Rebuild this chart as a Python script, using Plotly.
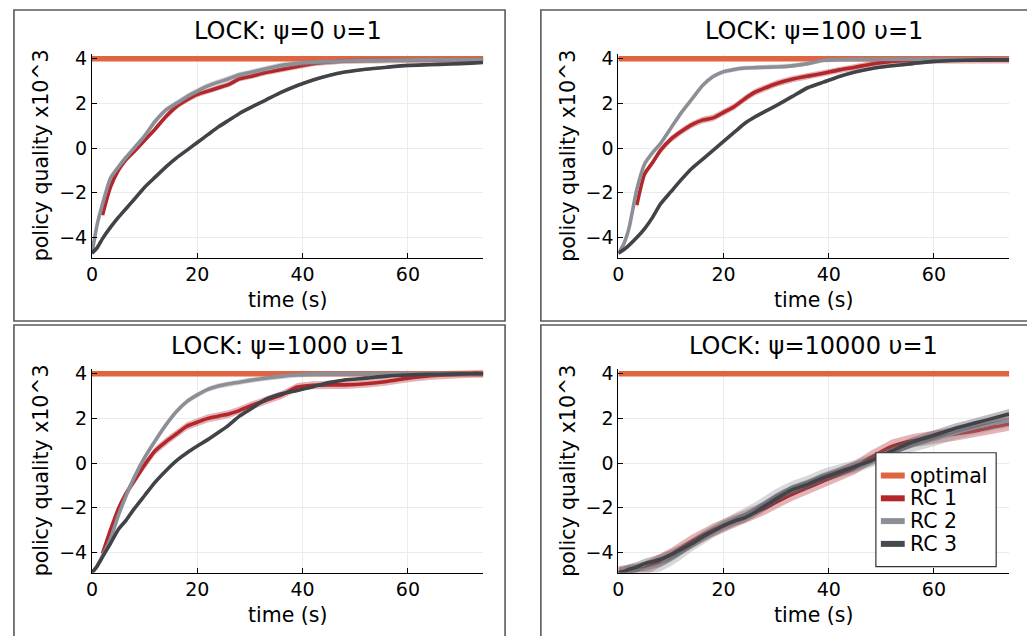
import plotly.graph_objects as go

# ---------------- data ----------------
T = [0, 1, 2, 3.5, 5, 6.5, 8, 10, 12, 14, 16, 18, 20, 22, 24, 26, 28, 30, 33, 36,
     39, 42, 45, 48, 52, 56, 60, 64, 68, 72, 74.3]

TITLES = ["LOCK: ψ=0 υ=1", "LOCK: ψ=100 υ=1", "LOCK: ψ=1000 υ=1", "LOCK: ψ=10000 υ=1"]
SERIES = ["RC 1", "RC 2", "RC 3"]
LEGEND_NAMES = ["optimal", "RC 1", "RC 2", "RC 3"]
OPTIMAL_T = [0, 75]
OPTIMAL_Y = [4, 4]

# psi = 0
P0_RC1 = [None, None, -3.0, -1.75, -1.0, -0.5, -0.15, 0.35, 0.85, 1.4, 1.85, 2.15, 2.4, 2.55, 2.7, 2.85,
          3.1, 3.2, 3.38, 3.52, 3.65, 3.78, 3.85, 3.9, 3.92, 3.93, 3.94, 3.95, 3.95, 3.95, 3.95]
P0_RC2 = [-4.7, -3.4, -2.5, -1.35, -0.85, -0.4, 0.0, 0.55, 1.2, 1.7, 2.0, 2.3, 2.55, 2.78, 2.95, 3.1,
          3.28, 3.38, 3.55, 3.7, 3.79, 3.84, 3.87, 3.9, 3.92, 3.93, 3.94, 3.95, 3.95, 3.95, 3.95]
P0_RC3 = [-4.7, -4.45, -4.05, -3.55, -3.1, -2.7, -2.3, -1.75, -1.3, -0.85, -0.45, -0.1, 0.25, 0.6, 0.95, 1.25,
          1.55, 1.8, 2.15, 2.5, 2.8, 3.05, 3.25, 3.4, 3.53, 3.62, 3.7, 3.73, 3.76, 3.8, 3.83]

# psi = 100
P1_RC1 = [None, None, None, -2.55, -1.15, -0.65, -0.1, 0.4, 0.75, 1.05, 1.25, 1.35, 1.6, 1.85, 2.2, 2.5,
          2.7, 2.88, 3.08, 3.22, 3.35, 3.5, 3.62, 3.75, 3.88, 3.92, 3.93, 3.93, 3.93, 3.93, 3.93]
P1_RC2 = [-4.7, -4.3, -3.6, -1.85, -0.7, -0.2, 0.2, 0.9, 1.6, 2.2, 2.8, 3.2, 3.42, 3.52, 3.58, 3.6,
          3.62, 3.63, 3.68, 3.78, 3.93, 3.96, 3.97, 3.97, 3.98, 3.98, 3.98, 3.98, 3.98, 3.98, 3.98]
P1_RC3 = [-4.7, -4.55, -4.35, -4.0, -3.6, -3.1, -2.5, -1.95, -1.4, -0.9, -0.5, -0.1, 0.3, 0.7, 1.1, 1.4,
          1.65, 1.9, 2.3, 2.7, 2.95, 3.2, 3.4, 3.55, 3.68, 3.78, 3.88, 3.92, 3.94, 3.95, 3.95]

# psi = 1000
P2_RC1 = [None, None, -4.05, -3.0, -2.05, -1.35, -0.8, -0.08, 0.55, 0.95, 1.3, 1.65, 1.83, 2.0, 2.1, 2.2,
          2.35, 2.55, 2.8, 3.05, 3.4, 3.48, 3.5, 3.5, 3.55, 3.65, 3.8, 3.9, 3.95, 4.0, 4.0]
P2_RC2 = [-4.9, -4.6, -4.15, -3.4, -2.35, -1.45, -0.65, 0.25, 1.0, 1.7, 2.3, 2.75, 3.05, 3.3, 3.45, 3.55,
          3.62, 3.7, 3.8, 3.88, 3.95, 3.98, 4.0, 4.0, 4.0, 4.0, 4.0, 4.0, 4.0, 4.0, 4.0]
P2_RC3 = [-4.9, -4.6, -4.2, -3.6, -2.97, -2.55, -2.05, -1.45, -0.85, -0.35, 0.1, 0.45, 0.76, 1.05, 1.37, 1.7,
          2.1, 2.4, 2.85, 3.1, 3.25, 3.42, 3.6, 3.72, 3.8, 3.89, 3.94, 3.97, 3.98, 4.0, 4.0]

# psi = 10000
P3_RC1 = [-4.9, -4.88, -4.85, -4.8, -4.7, -4.55, -4.35, -4.1, -3.8, -3.5, -3.25, -3.0, -2.8, -2.6, -2.4, -2.2,
          -2.0, -1.75, -1.4, -1.1, -0.8, -0.5, -0.2, 0.25, 0.75, 1.0, 1.15, 1.3, 1.45, 1.65, 1.75]
P3_RC2 = [-4.95, -4.9, -4.85, -4.8, -4.75, -4.65, -4.55, -4.3, -4.0, -3.65, -3.35, -3.05, -2.8, -2.55, -2.3, -2.05,
          -1.75, -1.45, -1.1, -0.85, -0.55, -0.35, -0.15, 0.1, 0.45, 0.8, 1.05, 1.35, 1.6, 1.8, 1.9]
P3_RC3 = [-4.9, -4.85, -4.75, -4.65, -4.5, -4.4, -4.3, -4.1, -3.85, -3.6, -3.3, -3.05, -2.8, -2.6, -2.45, -2.2,
          -1.9, -1.6, -1.2, -0.95, -0.65, -0.4, -0.15, 0.1, 0.55, 0.95, 1.25, 1.55, 1.8, 2.05, 2.2]

# half-width of the shaded band around each mean curve, per panel [RC1, RC2, RC3]
SPREAD_P0 = [0.12, 0.13, 0.06]
SPREAD_P1 = [0.15, 0.10, 0.06]
SPREAD_P2 = [0.18, 0.12, 0.06]
SPREAD_P3 = [0.30, 0.30, 0.22]

X_TICKS = [0, 20, 40, 60]
Y_TICKS = [-4, -2, 0, 2, 4]

PANELS = [
    (P0_RC1, P0_RC2, P0_RC3, SPREAD_P0),
    (P1_RC1, P1_RC2, P1_RC3, SPREAD_P1),
    (P2_RC1, P2_RC2, P2_RC3, SPREAD_P2),
    (P3_RC1, P3_RC2, P3_RC3, SPREAD_P3),
]

# ---------------- styling ----------------
W, H = 1027, 636
FONT = "DejaVu Sans"
C_OPT = "#E0643F"
C_LINE = ["#B3262B", "#8C9096", "#404347"]
C_BAND = ["rgba(179,38,43,0.35)", "rgba(140,144,150,0.35)", "rgba(64,67,71,0.35)"]
C_LEGEND = [C_OPT, "#B3262B", "#8C9096", "#46494D"]

# pixel geometry of panels (left, right, top, bottom of plot area)
COLS = [(86.5, 480.0), (616.0, 1009.0)]
ROWS = [(48.0, 254.0), (366.0, 572.0)]
BOXES = [(8, 4, 502, 318), (538, 4, 1030, 318), (8, 322, 502, 640), (538, 322, 1030, 640)]
LEGEND_BOX = (875, 451, 996, 566)
LEGEND_ROWS = [474, 497, 520, 543]


def px_x(p):
    return p / W


def px_y(p):
    return 1 - p / H


fig = go.Figure()
layout = dict(
    width=W, height=H,
    margin=dict(l=0, r=0, t=0, b=0),
    paper_bgcolor="white", plot_bgcolor="white",
    font=dict(family=FONT, color="black", size=19),
    showlegend=False,
)
annotations = []
shapes = []

for i, (rc1, rc2, rc3, spread) in enumerate(PANELS):
    r, c = divmod(i, 2)
    xl, xr = COLS[c]
    yt, yb = ROWS[r]
    suffix = "" if i == 0 else str(i + 1)
    xa, ya = "x" + suffix, "y" + suffix
    axis_common = dict(
        showline=True, linecolor="black", linewidth=1,
        ticks="inside", ticklen=5, tickcolor="black", tickwidth=1,
        showgrid=True, gridcolor="#EBEBEB", gridwidth=1,
        zeroline=False, mirror=False,
        tickfont=dict(family=FONT, size=19, color="black"),
    )
    layout["xaxis" + suffix] = dict(
        axis_common, domain=[px_x(xl), px_x(xr)], anchor=ya,
        range=[0, 74.3], tickvals=X_TICKS, ticktext=[str(v) for v in X_TICKS])
    layout["yaxis" + suffix] = dict(
        axis_common, domain=[px_y(yb), px_y(yt)], anchor=xa,
        range=[-4.9, 4.23], tickvals=Y_TICKS,
        ticktext=[("−" + str(-v)) if v < 0 else str(v) for v in Y_TICKS])

    fig.add_trace(go.Scatter(x=OPTIMAL_T, y=OPTIMAL_Y, mode="lines", name="optimal",
                             line=dict(color=C_OPT, width=5.5), xaxis=xa, yaxis=ya,
                             hoverinfo="skip"))
    for k, ys in enumerate([rc1, rc2, rc3]):
        tv = [t for t, v in zip(T, ys) if v is not None]
        yv = [v for v in ys if v is not None]
        up = [v + spread[k] for v in yv]
        lo = [v - spread[k] for v in yv]
        fig.add_trace(go.Scatter(x=tv + tv[::-1], y=up + lo[::-1], mode="lines", fill="toself",
                                 fillcolor=C_BAND[k], line=dict(width=0, color=C_BAND[k]),
                                 xaxis=xa, yaxis=ya, hoverinfo="skip"))
        fig.add_trace(go.Scatter(x=tv, y=yv, mode="lines", name=SERIES[k],
                                 line=dict(color=C_LINE[k], width=3.6, shape="spline", smoothing=0.6),
                                 xaxis=xa, yaxis=ya, hoverinfo="skip"))

    cx = (xl + xr) / 2
    annotations.append(dict(text=TITLES[i], x=px_x(cx), y=px_y(25 + 318 * r), xref="paper", yref="paper",
                            xanchor="center", yanchor="middle", showarrow=False,
                            font=dict(family=FONT, size=24, color="black")))
    annotations.append(dict(text="time (s)", x=px_x(cx), y=px_y(297 + 318 * r), xref="paper", yref="paper",
                            xanchor="center", yanchor="middle", showarrow=False,
                            font=dict(family=FONT, size=20.5, color="black")))
    annotations.append(dict(text="policy quality x10^3", x=px_x(35 + (COLS[c][0] - COLS[0][0])),
                            y=px_y((yt + yb) / 2), xref="paper", yref="paper",
                            xanchor="center", yanchor="middle", showarrow=False, textangle=-90,
                            font=dict(family=FONT, size=20.5, color="black")))

for (x0, y0, x1, y1) in BOXES:
    shapes.append(dict(type="rect", xref="paper", yref="paper",
                       x0=px_x(x0), x1=px_x(x1), y0=px_y(y1), y1=px_y(y0),
                       line=dict(color="#5A5A5A", width=1.6), layer="below"))

# legend drawn in the last panel
lx0, ly0, lx1, ly1 = LEGEND_BOX
shapes.append(dict(type="rect", xref="paper", yref="paper",
                   x0=px_x(lx0), x1=px_x(lx1), y0=px_y(ly1), y1=px_y(ly0),
                   line=dict(color="#333333", width=1.2), fillcolor="white", layer="above"))
for name, col, yy in zip(LEGEND_NAMES, C_LEGEND, LEGEND_ROWS):
    shapes.append(dict(type="line", xref="paper", yref="paper",
                       x0=px_x(880), x1=px_x(904), y0=px_y(yy), y1=px_y(yy),
                       line=dict(color=col, width=6), layer="above"))
    annotations.append(dict(text=name, x=px_x(907), y=px_y(yy), xref="paper", yref="paper",
                            xanchor="left", yanchor="middle", showarrow=False,
                            font=dict(family=FONT, size=20.5, color="black")))

layout["annotations"] = annotations
layout["shapes"] = shapes
fig.update_layout(**layout)
fig.write_html("out.html")
